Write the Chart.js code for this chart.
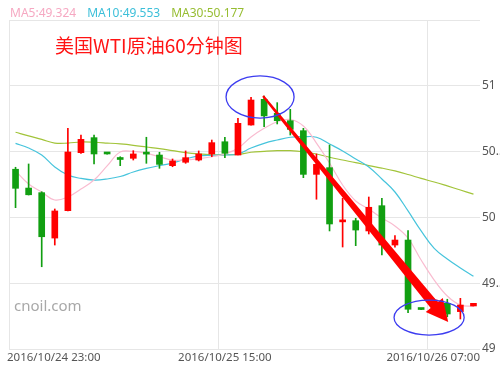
<!DOCTYPE html>
<html>
<head>
<meta charset="utf-8">
<script src="https://cdn.jsdelivr.net/npm/chart.js@4.4.0/dist/chart.umd.min.js"></script>
<style>
  html, body { margin: 0; padding: 0; background: #fff; }
</style>
</head>
<body>
<canvas id="myChart" width="500" height="369"></canvas>
<script>

// hourly candles
var hours = [
    '2016/10/24 23:00',
    '2016/10/25 00:00', '2016/10/25 01:00', '2016/10/25 02:00', '2016/10/25 03:00',
    '2016/10/25 04:00', '2016/10/25 05:00', '2016/10/25 06:00', '2016/10/25 07:00',
    '2016/10/25 08:00', '2016/10/25 09:00', '2016/10/25 10:00', '2016/10/25 11:00',
    '2016/10/25 12:00', '2016/10/25 13:00', '2016/10/25 14:00', '2016/10/25 15:00',
    '2016/10/25 16:00', '2016/10/25 17:00', '2016/10/25 18:00', '2016/10/25 19:00',
    '2016/10/25 20:00', '2016/10/25 21:00', '2016/10/25 22:00', '2016/10/25 23:00',
    '2016/10/26 00:00', '2016/10/26 01:00', '2016/10/26 02:00', '2016/10/26 03:00',
    '2016/10/26 04:00', '2016/10/26 05:00', '2016/10/26 06:00', '2016/10/26 07:00',
    '2016/10/26 08:00', '2016/10/26 09:00', '2016/10/26 10:00'
];

var opens  = [50.366, 50.223, 50.188, 49.843, 50.051, 50.492, 50.606, 50.490, 50.446, 50.449,
              50.487, 50.474, 50.393, 50.419, 50.436, 50.482, 50.575, 50.474, 50.702, 50.897,
              50.791, 50.735, 50.659, 50.327, 50.378, 49.966, 49.975, 49.897, 50.089, 49.790,
              49.828, 49.306, 49.300, 49.347, 49.284, 49.327];
var highs  = [50.381, 50.406, 50.195, 50.064, 50.677, 50.626, 50.626, 50.492, 50.461, 50.507,
              50.609, 50.495, 50.444, 50.505, 50.505, 50.588, 50.609, 50.753, 50.913, 50.922,
              50.872, 50.821, 50.677, 50.482, 50.550, 50.145, 49.993, 50.155, 50.145, 49.861,
              49.899, 49.308, 49.380, 49.378, 49.385, 49.347];
var lows   = [50.074, 50.170, 49.625, 49.790, 50.050, 50.487, 50.406, 50.480, 50.393, 50.436,
              50.411, 50.373, 50.385, 50.411, 50.429, 50.461, 50.454, 50.474, 50.700, 50.689,
              50.710, 50.626, 50.302, 50.138, 49.897, 49.775, 49.785, 49.874, 49.714, 49.773,
              49.276, 49.298, 49.290, 49.245, 49.228, 49.327];
var closes = [50.221, 50.172, 49.853, 50.049, 50.497, 50.593, 50.482, 50.482, 50.440, 50.482,
              50.481, 50.403, 50.429, 50.454, 50.482, 50.568, 50.487, 50.715, 50.892, 50.771,
              50.735, 50.669, 50.327, 50.403, 49.950, 49.972, 49.904, 50.077, 49.790, 49.828,
              49.302, 49.300, 49.373, 49.266, 49.334, 49.347];

// moving averages as drawn (they start before the visible window)
var ma5  = [50.353, 50.254, 50.193, 50.132, 50.155, 50.216, 50.284, 50.391, 50.497, 50.501,
            50.487, 50.461, 50.436, 50.436, 50.446, 50.461, 50.482, 50.525, 50.611, 50.677,
            50.727, 50.744, 50.695, 50.565, 50.413, 50.246, 50.125, 50.064, 49.995, 49.935,
            49.843, 49.676, 49.524, 49.403, 49.334, 49.324];
var ma10 = [50.562, 50.527, 50.474, 50.383, 50.322, 50.296, 50.284, 50.292, 50.311, 50.345,
            50.372, 50.394, 50.413, 50.444, 50.467, 50.472, 50.474, 50.482, 50.527, 50.563,
            50.588, 50.609, 50.613, 50.609, 50.558, 50.505, 50.444, 50.383, 50.292, 50.193,
            50.049, 49.897, 49.764, 49.684, 49.616, 49.553];
var ma30 = [50.647, 50.619, 50.593, 50.565, 50.565, 50.573, 50.571, 50.565, 50.558, 50.548,
            50.535, 50.522, 50.507, 50.492, 50.482, 50.476, 50.476, 50.479, 50.495, 50.502,
            50.507, 50.507, 50.499, 50.482, 50.457, 50.436, 50.416, 50.394, 50.375, 50.353,
            50.326, 50.296, 50.269, 50.239, 50.208, 50.177];

var xTickLabels = ['2016/10/24 23:00', '2016/10/25 15:00', '2016/10/26 07:00'];
var yTicks = [49, 49.5, 50, 50.5, 51];

var UP = '#ff0000', DOWN = '#119f11';
var colMA5 = '#f9bcd0', colMA10 = '#46c4dc', colMA30 = '#a2c43a';

// hand drawn marks on the original, in (candle index, price)
var notes = {
    rings: [
        { at: 18.69, price: 50.915, bands: 2.6, span: 0.16 },
        { at: 31.61, price: 49.239, bands: 2.68, span: 0.133 }
    ],
    arrowFrom: [18.92, 50.922],
    arrowTo: [33.07, 49.205]
};

var candleColors = closes.map(function (c, i) { return c >= opens[i] ? UP : DOWN; });
var gridAt = xTickLabels.map(function (l) { return hours.indexOf(l); });

var overlay = {
    id: 'overlay',
    afterDraw: function (chart) {
        var ctx = chart.ctx, xs = chart.scales.x, ys = chart.scales.y, area = chart.chartArea;
        ctx.save();

        // legend line
        var items = [['MA5', ma5, '#f6a8c2'], ['MA10', ma10, '#3cbfd9'], ['MA30', ma30, '#97bd32']];
        ctx.font = '12px "Noto Sans"';
        ctx.textBaseline = 'middle';
        ctx.textAlign = 'left';
        var lx = 10;
        items.forEach(function (it) {
            var t = it[0] + ':' + it[1][it[1].length - 1].toFixed(3);
            ctx.fillStyle = it[2];
            ctx.fillText(t, lx, 14);
            lx += ctx.measureText(t).width + 11;
        });

        // title
        ctx.font = '19px "Noto Sans CJK SC"';
        ctx.fillStyle = '#ff1414';
        ctx.fillText('美国WTI原油60分钟图', 55, 46);

        // watermark
        ctx.font = '15px "Noto Sans"';
        ctx.fillStyle = '#a8a8a8';
        ctx.fillText('cnoil.com', 14, 307);

        // x labels
        ctx.font = '11.5px "Noto Sans"';
        ctx.fillStyle = '#555';
        xTickLabels.forEach(function (l) {
            var px = xs.getPixelForValue(hours.indexOf(l));
            var w = ctx.measureText(l).width;
            var left = Math.max(area.left - 2, Math.min(px - w / 2, area.right - w));
            ctx.fillText(l, left, area.bottom + 9);
        });

        // arrow
        var p0 = { x: xs.getPixelForValue(notes.arrowFrom[0]), y: ys.getPixelForValue(notes.arrowFrom[1]) };
        var p1 = { x: xs.getPixelForValue(notes.arrowTo[0]), y: ys.getPixelForValue(notes.arrowTo[1]) };
        var dx = p1.x - p0.x, dy = p1.y - p0.y, len = Math.hypot(dx, dy);
        var ux = dx / len, uy = dy / len, nx = -uy, ny = ux;
        var headLen = 22, headHalf = 11, w0 = 1.1, w1 = 4.6;
        var bx = p1.x - ux * headLen, by = p1.y - uy * headLen;
        ctx.beginPath();
        ctx.moveTo(p0.x + nx * w0, p0.y + ny * w0);
        ctx.lineTo(bx + nx * w1, by + ny * w1);
        ctx.lineTo(bx + nx * headHalf, by + ny * headHalf);
        ctx.lineTo(p1.x, p1.y);
        ctx.lineTo(bx - nx * headHalf, by - ny * headHalf);
        ctx.lineTo(bx - nx * w1, by - ny * w1);
        ctx.lineTo(p0.x - nx * w0, p0.y - ny * w0);
        ctx.closePath();
        ctx.fillStyle = '#ff0000';
        ctx.fill();

        // rings
        ctx.strokeStyle = '#3c3cf0';
        ctx.lineWidth = 1.3;
        notes.rings.forEach(function (r) {
            var cx = xs.getPixelForValue(r.at), cy = ys.getPixelForValue(r.price);
            var rx = Math.abs(xs.getPixelForValue(r.at + r.bands) - cx);
            var ry = Math.abs(ys.getPixelForValue(r.price + r.span) - cy);
            ctx.beginPath();
            ctx.ellipse(cx, cy, rx, ry, 0, 0, Math.PI * 2);
            ctx.stroke();
        });

        ctx.restore();
    }
};

function renderChart() {
    var ctx = document.getElementById('myChart').getContext('2d');
    new Chart(ctx, {
        type: 'bar',
        data: {
            labels: hours,
            datasets: [
                {
                    label: 'body',
                    data: opens.map(function (o, i) { return [o, closes[i]]; }),
                    backgroundColor: candleColors,
                    borderWidth: 0,
                    barThickness: 6,
                    minBarLength: 2,
                    grouped: false
                },
                {
                    label: 'wick',
                    data: lows.map(function (l, i) { return [l, highs[i]]; }),
                    backgroundColor: candleColors,
                    borderWidth: 0,
                    barThickness: 1,
                    grouped: false
                },
                { type: 'line', label: 'MA5', data: ma5, borderColor: colMA5, borderWidth: 1.2, pointRadius: 0, tension: 0.4, fill: false },
                { type: 'line', label: 'MA10', data: ma10, borderColor: colMA10, borderWidth: 1.2, pointRadius: 0, tension: 0.4, fill: false },
                { type: 'line', label: 'MA30', data: ma30, borderColor: colMA30, borderWidth: 1.2, pointRadius: 0, tension: 0.4, fill: false }
            ]
        },
        options: {
            responsive: false,
            devicePixelRatio: 1,
            animation: false,
            events: [],
            layout: { padding: { left: 9, top: 20, right: 0, bottom: 0 } },
            plugins: { legend: { display: false }, tooltip: { enabled: false } },
            scales: {
                x: {
                    type: 'category',
                    offset: true,
                    grid: {
                        offset: true,
                        drawTicks: false,
                        color: function (c) { return gridAt.indexOf(c.index) >= 0 ? '#e6e6e6' : 'rgba(0,0,0,0)'; }
                    },
                    border: { display: false },
                    ticks: { display: false },
                    afterFit: function (s) { s.height = 20; }
                },
                y: {
                    position: 'right',
                    min: 49,
                    max: 51.5,
                    grid: { color: '#e6e6e6', drawTicks: false },
                    border: { display: false },
                    ticks: {
                        stepSize: 0.5,
                        padding: 2,
                        color: '#555',
                        font: { family: 'Noto Sans', size: 12 },
                        callback: function (v) { return yTicks.indexOf(v) >= 0 ? String(v) : ''; }
                    },
                    afterFit: function (s) { s.width = 20; }
                }
            }
        },
        plugins: [overlay]
    });
}

renderChart();
</script>
</body>
</html>
